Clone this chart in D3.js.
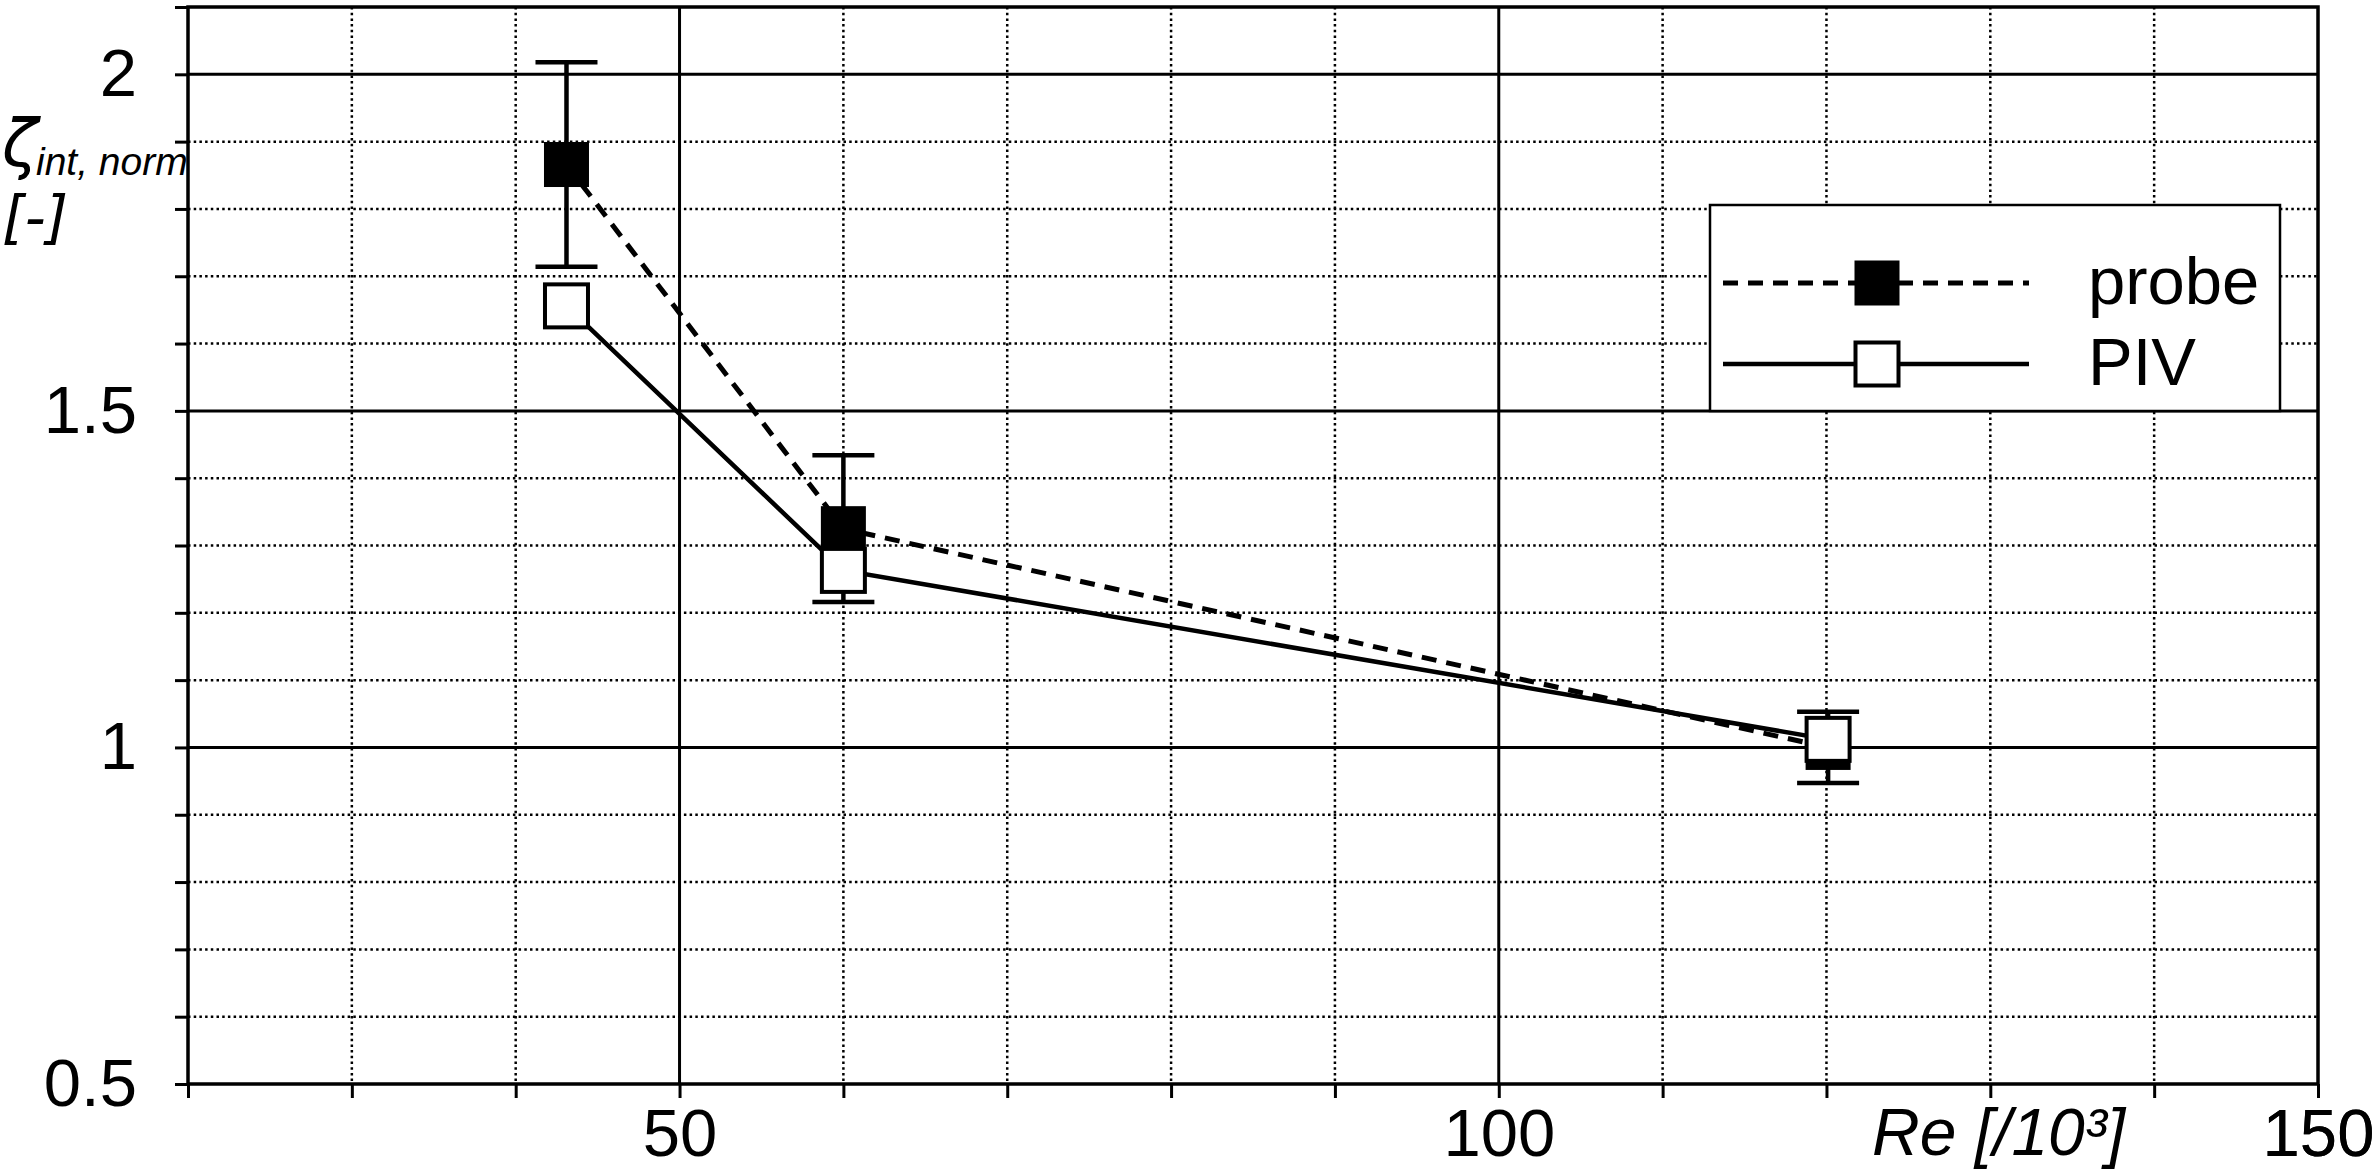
<!DOCTYPE html>
<html><head><meta charset="utf-8">
<script src="https://cdn.jsdelivr.net/npm/d3@7"></script>
<style>
body{margin:0;background:#fff;}
svg{display:block;}
</style>
</head><body>
<svg id="chart" width="2380" height="1176"></svg>
<script>
// ---- data ----
const reynolds = [43.1, 60.0, 120.1];          // Re [/10^3]
const probeValues = [1.866, 1.325, 1.0];
const probeErrors = [0.152, 0.109, 0.053];
const pivValues = [1.656, 1.263, 1.012];
const seriesNames = ["probe", "PIV"];
const xTickLabels = [50, 100, 150];
const yTickLabels = [0.5, 1, 1.5, 2];
const xMajorGrid = [50, 100];
const yMajorGrid = [1, 1.5, 2];

const L = 188, R = 2318, T = 7, B = 1084;
const FONT = "'Liberation Sans', Arial, sans-serif";

const svg = d3.select("#chart");
const x = d3.scaleLinear().domain([20, 150]).range([L, R]);
const y = d3.scaleLinear().domain([0.5, 2.1]).range([B, T]);

const xMinor = d3.range(2, 16).map(d => d * 10);
const yMinor = d3.range(5, 22).map(d => Math.round(d) / 10);

// minor dotted grid
const grid = svg.append("g");
grid.selectAll("line.vx").data(xMinor.filter(d => d > 20 && d < 150 && !xMajorGrid.includes(d)))
  .join("line").attr("x1", d => x(d)).attr("x2", d => x(d)).attr("y1", T).attr("y2", B)
  .attr("stroke", "#000").attr("stroke-width", 2.5).attr("stroke-dasharray", "2.5,3.2");
grid.selectAll("line.hy").data(yMinor.filter(d => d > 0.5 && d < 2.1 && !yMajorGrid.includes(d)))
  .join("line").attr("x1", L).attr("x2", R).attr("y1", d => y(d)).attr("y2", d => y(d))
  .attr("stroke", "#000").attr("stroke-width", 2.5).attr("stroke-dasharray", "2.5,3.2");
// major solid grid
grid.selectAll("line.mx").data(xMajorGrid)
  .join("line").attr("x1", d => x(d)).attr("x2", d => x(d)).attr("y1", T).attr("y2", B)
  .attr("stroke", "#000").attr("stroke-width", 3);
grid.selectAll("line.my").data(yMajorGrid)
  .join("line").attr("x1", L).attr("x2", R).attr("y1", d => y(d)).attr("y2", d => y(d))
  .attr("stroke", "#000").attr("stroke-width", 3);

// axes
const xAxis = d3.axisBottom(x).tickValues(xMinor.concat([150]))
  .tickSize(14).tickPadding(10)
  .tickFormat(d => xTickLabels.includes(d) ? String(d) : "");
const gx = svg.append("g").attr("transform", `translate(0,${B})`).call(xAxis);
const yAxis = d3.axisLeft(y).tickValues(yMinor)
  .tickSize(13).tickPadding(38)
  .tickFormat(d => yTickLabels.includes(d) ? String(d) : "");
const gy = svg.append("g").attr("transform", `translate(${L},0)`).call(yAxis);
[gx, gy].forEach(g => {
  g.select(".domain").remove();
  g.selectAll(".tick line").attr("stroke", "#000").attr("stroke-width", 3);
  g.selectAll(".tick text").attr("fill", "#000").style("font-family", FONT).style("font-size", "67px");
});

// frame
svg.append("rect").attr("x", L).attr("y", T).attr("width", R - L).attr("height", B - T)
  .attr("fill", "none").attr("stroke", "#000").attr("stroke-width", 3.5);

// series
const probe = reynolds.map((r, i) => ({ r, v: probeValues[i], e: probeErrors[i] }));
const piv = reynolds.map((r, i) => ({ r, v: pivValues[i] }));
const line = d3.line().x(d => x(d.r)).y(d => y(d.v));

svg.append("path").datum(probe).attr("d", line).attr("fill", "none")
  .attr("stroke", "#000").attr("stroke-width", 5).attr("stroke-dasharray", "15,10");
svg.append("path").datum(piv).attr("d", line).attr("fill", "none")
  .attr("stroke", "#000").attr("stroke-width", 4.5);

// error bars
const eb = svg.append("g").attr("stroke", "#000").attr("stroke-width", 4.5);
eb.selectAll("line.v").data(probe).join("line")
  .attr("x1", d => x(d.r)).attr("x2", d => x(d.r))
  .attr("y1", d => y(d.v + d.e)).attr("y2", d => y(d.v - d.e));
eb.selectAll("line.t").data(probe).join("line")
  .attr("x1", d => x(d.r) - 31).attr("x2", d => x(d.r) + 31)
  .attr("y1", d => y(d.v + d.e)).attr("y2", d => y(d.v + d.e));
eb.selectAll("line.b").data(probe).join("line")
  .attr("x1", d => x(d.r) - 31).attr("x2", d => x(d.r) + 31)
  .attr("y1", d => y(d.v - d.e)).attr("y2", d => y(d.v - d.e));

// markers
const FS = 45, OS = 43;
svg.append("g").selectAll("rect").data(probe).join("rect")
  .attr("x", d => x(d.r) - FS / 2).attr("y", d => y(d.v) - FS / 2)
  .attr("width", FS).attr("height", FS).attr("fill", "#000");
svg.append("g").selectAll("rect").data(piv).join("rect")
  .attr("x", d => x(d.r) - OS / 2).attr("y", d => y(d.v) - OS / 2)
  .attr("width", OS).attr("height", OS).attr("fill", "#fff")
  .attr("stroke", "#000").attr("stroke-width", 4);

// legend
const lg = svg.append("g");
lg.append("rect").attr("x", 1710).attr("y", 205).attr("width", 570).attr("height", 206)
  .attr("fill", "#fff").attr("stroke", "#000").attr("stroke-width", 2.5);
const rows = [
  { name: seriesNames[0], cy: 283, dashed: true },
  { name: seriesNames[1], cy: 364, dashed: false }
];
rows.forEach(rw => {
  lg.append("line").attr("x1", 1723).attr("x2", 2029).attr("y1", rw.cy).attr("y2", rw.cy)
    .attr("stroke", "#000").attr("stroke-width", rw.dashed ? 5 : 4.5)
    .attr("stroke-dasharray", rw.dashed ? "15,10" : null);
  if (rw.dashed) {
    lg.append("rect").attr("x", 1877 - FS / 2).attr("y", rw.cy - FS / 2)
      .attr("width", FS).attr("height", FS).attr("fill", "#000");
  } else {
    lg.append("rect").attr("x", 1877 - OS / 2).attr("y", rw.cy - OS / 2)
      .attr("width", OS).attr("height", OS).attr("fill", "#fff")
      .attr("stroke", "#000").attr("stroke-width", 4);
  }
  lg.append("text").attr("x", 2088).attr("y", rw.cy + 21).text(rw.name)
    .style("font-family", FONT).style("font-size", "67px").attr("fill", "#000");
});

// axis titles
svg.append("text").attr("x", 1872).attr("y", 1155).text("Re [/10³]")
  .style("font-family", FONT).style("font-size", "66px").style("font-style", "italic");
const YF = "'DejaVu Sans', sans-serif";
svg.append("text").attr("x", 2).attr("y", 166).text("ζ")
  .style("font-family", YF).style("font-size", "66px").style("font-style", "italic");
svg.append("text").attr("x", 36).attr("y", 175).text("int, norm")
  .style("font-family", FONT).style("font-size", "39px").style("font-style", "italic");
svg.append("text").attr("x", 2).attr("y", 238).text("[-]")
  .style("font-family", YF).style("font-size", "58px").style("font-style", "italic");
</script>
</body></html>
